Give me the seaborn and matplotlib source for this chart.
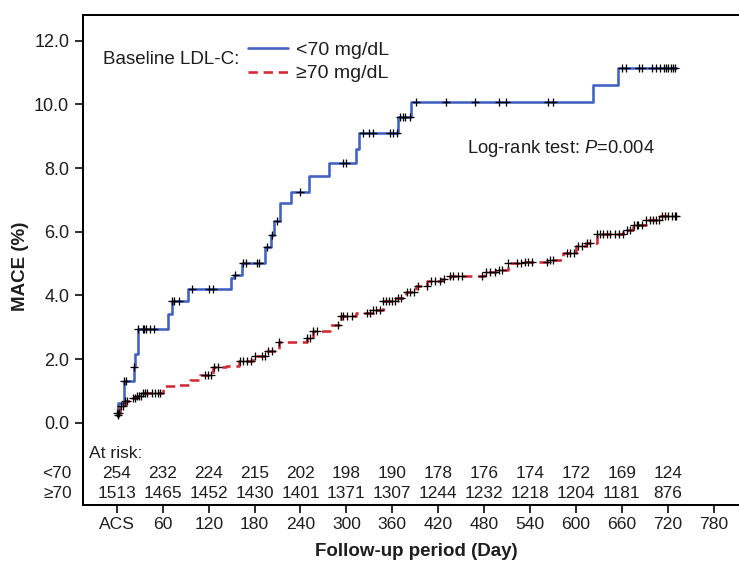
import numpy as np
import matplotlib
matplotlib.use("Agg")
import matplotlib.pyplot as plt
import seaborn as sns
from matplotlib.transforms import blended_transform_factory

# ---------------- data ----------------
# Baseline LDL-C <70 mg/dL : cumulative MACE (%) step curve
lt70_days = [0, 2, 9, 22, 24, 27, 67, 72, 93, 149, 153, 164, 193, 202, 205, 213,
             228, 251, 277, 313, 316, 368, 385, 623, 655, 731]
lt70_mace = [0.23, 0.62, 1.32, 1.76, 2.16, 2.94, 3.41, 3.81, 4.20, 4.54, 4.65, 5.01,
             5.52, 5.90, 6.35, 6.90, 7.25, 7.76, 8.17, 8.60, 9.09, 9.61, 10.09,
             10.62, 11.13, 11.13]
lt70_censor_days = [1, 9, 12, 22, 28, 34, 36, 38, 43, 48, 72, 75, 81, 98, 120, 126,
                    154, 165, 169, 183, 186, 196, 203, 209, 240, 296, 300, 322, 329,
                    335, 357, 361, 366, 370, 374, 377, 383, 391, 430, 468, 499, 509,
                    564, 570, 660, 666, 682, 686, 700, 705, 710, 715, 718, 721, 724,
                    727, 730]

# Baseline LDL-C >=70 mg/dL
ge70_days = [0, 4, 10, 17, 26, 34, 60, 78, 95, 108, 125, 143, 160, 178, 195, 212,
             248, 256, 278, 293, 313, 335, 348, 365, 378, 391, 406, 424, 435, 481,
             496, 511, 531, 566, 583, 600, 613, 627, 662, 675, 692, 710, 731]
ge70_mace = [0.30, 0.51, 0.67, 0.77, 0.83, 0.93, 1.14, 1.19, 1.35, 1.51, 1.75, 1.77,
             1.95, 2.10, 2.24, 2.55, 2.66, 2.87, 3.08, 3.34, 3.46, 3.55, 3.81, 3.92,
             4.12, 4.30, 4.44, 4.51, 4.60, 4.72, 4.81, 5.01, 5.04, 5.12, 5.33, 5.54,
             5.65, 5.94, 6.06, 6.22, 6.38, 6.48, 6.48]
ge70_censor_days = [0, 3, 5, 8, 10, 13, 21, 24, 26, 29, 31, 34, 37, 39, 46, 50, 54, 56,
                    115, 119, 123, 127, 132, 161, 165, 170, 175, 180, 190, 193, 197,
                    203, 212, 248, 252, 256, 261, 289, 293, 295, 301, 307, 327, 331,
                    335, 339, 344, 348, 352, 356, 360, 363, 367, 371, 379, 383, 388,
                    393, 405, 410, 416, 422, 427, 435, 440, 446, 451, 477, 482, 488,
                    494, 499, 504, 511, 523, 528, 533, 538, 542, 562, 566, 570, 588,
                    592, 598, 603, 608, 614, 618, 627, 631, 636, 640, 644, 651, 656,
                    661, 667, 671, 676, 680, 681, 687, 692, 697, 701, 705, 709, 713,
                    717, 721, 725, 729, 731]

group_labels = ["<70 mg/dL", "\u226570 mg/dL"]
risk_row_labels = ["<70", "\u226570"]

x_tick_days = [0, 60, 120, 180, 240, 300, 360, 420, 480, 540, 600, 660, 720, 780]
x_tick_labels = ["ACS", "60", "120", "180", "240", "300", "360", "420", "480",
                 "540", "600", "660", "720", "780"]
y_tick_vals = [0, 2, 4, 6, 8, 10, 12]
y_tick_labels = ["0.0", "2.0", "4.0", "6.0", "8.0", "10.0", "12.0"]

risk_days = [0, 60, 120, 180, 240, 300, 360, 420, 480, 540, 600, 660, 720]
risk_lt70 = [254, 232, 224, 215, 202, 198, 190, 178, 176, 174, 172, 169, 124]
risk_ge70 = [1513, 1465, 1452, 1430, 1401, 1371, 1307, 1244, 1232, 1218, 1204, 1181, 876]

# ---------------- style ----------------
sns.set_style("ticks")
plt.rcParams["font.family"] = ["Liberation Sans", "DejaVu Sans"]
plt.rcParams["mathtext.fontset"] = "custom"
plt.rcParams["mathtext.rm"] = "Liberation Sans"
plt.rcParams["mathtext.it"] = "Liberation Sans:italic"

TXT = "#1e1e1e"
BLUE = "#4262c2"
RED = "#d42a36"
PX = 72 / 100.0  # points per pixel

W, H = 739, 565
fig = plt.figure(figsize=(W / 100, H / 100), dpi=100)
L, R, T, B = 82.7, 739.0, 15.0, 505.0
ax = fig.add_axes([L / W, 1 - B / H, (R - L) / W, (B - T) / H])


def step_value(days, vals, t):
    idx = np.searchsorted(np.asarray(days), np.asarray(t), side="right") - 1
    return np.asarray(vals)[np.clip(idx, 0, None)]


sns.lineplot(x=lt70_days, y=lt70_mace, drawstyle="steps-post", color=BLUE,
             linewidth=2.6 * PX, estimator=None, sort=False, ax=ax, zorder=2)
sns.lineplot(x=ge70_days, y=ge70_mace, drawstyle="steps-post", color=RED,
             linewidth=2.6 * PX, linestyle=(0, (3.6, 2.2)), estimator=None,
             sort=False, ax=ax, zorder=2)
line_lt, line_ge = ax.lines[0], ax.lines[1]

sns.scatterplot(x=lt70_censor_days,
                y=step_value(lt70_days, lt70_mace, lt70_censor_days),
                marker="+", color="black", s=28, linewidth=1.3 * PX,
                legend=False, ax=ax, zorder=3)
sns.scatterplot(x=ge70_censor_days,
                y=step_value(ge70_days, ge70_mace, ge70_censor_days),
                marker="+", color="black", s=28, linewidth=1.3 * PX,
                legend=False, ax=ax, zorder=3)

# axes limits
ax.set_xlim(-44.7, 813.2)
ax.set_ylim(-2.586, 12.81)

ax.set_xticks(x_tick_days)
ax.set_xticklabels(x_tick_labels, fontsize=12.6, color=TXT)
ax.set_yticks(y_tick_vals)
ax.set_yticklabels(y_tick_labels, fontsize=13, color=TXT)
ax.tick_params(axis="both", length=8 * PX, width=1.6 * PX, color="black",
               direction="out")
ax.tick_params(axis="x", pad=3)
ax.tick_params(axis="y", pad=4)

for side in ["left", "top", "bottom"]:
    ax.spines[side].set_linewidth(2.0 * PX)
    ax.spines[side].set_color("black")
ax.spines["right"].set_visible(False)

ax.set_xlabel("Follow-up period (Day)", fontsize=13.5, fontweight="bold", color=TXT)
ax.xaxis.set_label_coords((416 - L) / (R - L), (B - 543) / (B - T))
ax.set_ylabel("MACE (%)", fontsize=13.5, fontweight="bold", color=TXT)
ax.yaxis.set_label_coords((29 - L) / (R - L), (B - 266.7) / (B - T))

# legend
ax.text((103.3 - L) / (R - L), (B - 59.3) / (B - T), "Baseline LDL-C:",
        transform=ax.transAxes, ha="left", va="center", fontsize=13.5, color=TXT)
ax.legend(handles=[line_lt, line_ge], labels=group_labels, loc="upper left",
          bbox_to_anchor=((248.3 - L) / (R - L), (B - 41) / (B - T)),
          frameon=False, borderpad=0, borderaxespad=0, handlelength=2.05,
          handletextpad=0.4, labelspacing=0.32, fontsize=14, labelcolor=TXT)

ax.text((467.3 - L) / (R - L), (B - 148.3) / (B - T),
        r"Log-rank test: $\mathit{P}$=0.004", transform=ax.transAxes,
        ha="left", va="center", fontsize=13.2, color=TXT)

# at-risk table
trans = blended_transform_factory(ax.transData, ax.transAxes)
ax.text((89.3 - L) / (R - L), (B - 453.3) / (B - T), "At risk:",
        transform=ax.transAxes, ha="left", va="center", fontsize=12.6, color=TXT)
row_y = [(B - 474) / (B - T), (B - 494) / (B - T)]
for lab, yy in zip(risk_row_labels, row_y):
    ax.text((71.7 - L) / (R - L), yy, lab, transform=ax.transAxes, ha="right",
            va="center", fontsize=12.4, color=TXT, clip_on=False)
for d, n in zip(risk_days, risk_lt70):
    ax.text(d, row_y[0], str(n), transform=trans, ha="center", va="center",
            fontsize=12.4, color=TXT)
for d, n in zip(risk_days, risk_ge70):
    ax.text(d, row_y[1], str(n), transform=trans, ha="center", va="center",
            fontsize=12.4, color=TXT)

fig.savefig("out.png", dpi=100)
